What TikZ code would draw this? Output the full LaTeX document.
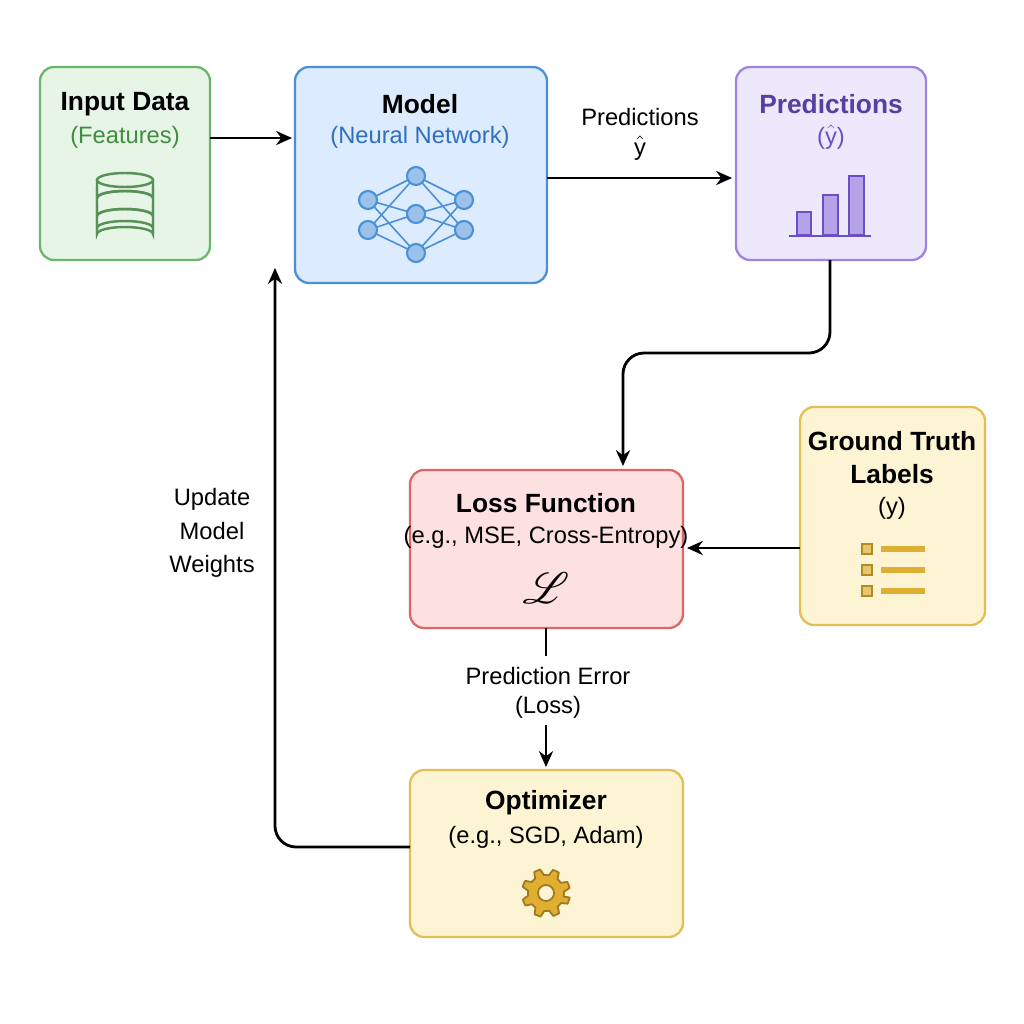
\documentclass[tikz,border=0pt]{standalone}
\usepackage{fontspec}
\setmainfont{Liberation Sans}
\usepackage{mathrsfs}
\usetikzlibrary{arrows.meta}
\definecolor{gF}{HTML}{E7F5E7}\definecolor{gD}{HTML}{6DB56D}\definecolor{gT}{HTML}{3E8E3E}
\definecolor{bF}{HTML}{DCEBFD}\definecolor{bD}{HTML}{4A90D9}\definecolor{bT}{HTML}{2F6FC0}
\definecolor{pF}{HTML}{EEE8FC}\definecolor{pD}{HTML}{9C84E0}\definecolor{pT}{HTML}{6A4FC8}
\definecolor{yF}{HTML}{FDF4D3}\definecolor{yD}{HTML}{E2BF52}\definecolor{yI}{HTML}{E0AE30}
\definecolor{rF}{HTML}{FDE1E0}\definecolor{rD}{HTML}{E06666}
\tikzset{box/.style={draw,line width=1.3pt,rounded corners=8pt},
 arr/.style={-{Stealth[length=9pt,width=8pt]},line width=1.6pt,rounded corners=12pt},
 ttl/.style={font=\bfseries\fontsize{15}{18}\selectfont},
 sub/.style={font=\fontsize{13.5}{16}\selectfont}}
\begin{document}
\begin{tikzpicture}[x=0.02cm,y=-0.02cm]
\useasboundingbox (0,0) rectangle (1024,1024);
\fill[white] (0,0) rectangle (1024,1024);
% boxes
\draw[box,fill=gF,draw=gD] (40,67) rectangle (210,260);
\node[box,draw=none,minimum width=0] (inp) at (125,163) {};
\draw[box,fill=bF,draw=bD] (295,67) rectangle (547,283);
\draw[box,fill=pF,draw=pD] (736,67) rectangle (926,260);
\draw[box,fill=yF,draw=yD] (800,407) rectangle (985,625);
\draw[box,fill=rF,draw=rD] (410,470) rectangle (683,628);
\draw[box,fill=yF,draw=yD] (410,770) rectangle (683,937);
% anchor coordinates
\coordinate (inpR) at (210,138); \coordinate (modL) at (292,138);
\coordinate (modR) at (547,178); \coordinate (preL) at (732,178);
\coordinate (preB) at (830,260); \coordinate (lossT) at (623,466);
\coordinate (gtL) at (800,548); \coordinate (lossR) at (687,548);
\coordinate (lossB) at (546,628); \coordinate (lossB2) at (546,656);
\coordinate (optT0) at (546,725); \coordinate (optT) at (546,767);
\coordinate (optL) at (410,847); \coordinate (modB) at (275,268);
% texts
\node[ttl] (t1) at (125,104) {Input Data};
\node[sub,text=gT] (s1) at (125,137) {(Features)};
\node[ttl] (t2) at (420,104) {Model};
\node[sub,text=bT] (s2) at (420,137) {(Neural Network)};
\node[ttl,text=pT!80!black] (t3) at (831,104) {Predictions};
\node[sub,text=pT] (s3) at (831,137) {($\hat{\mathrm{y}}$)};
\node[ttl] (t4) at (892,441) {Ground Truth};
\node[ttl] (t4b) at (892,474) {Labels};
\node[sub] (s4) at (892,508) {(y)};
\node[ttl] (t5) at (546,503) {Loss Function};
\node[sub] (s5) at (546,537) {(e.g., MSE, Cross-Entropy)};
\node[font=\fontsize{26}{28}\selectfont] (s5b) at (546,588) {$\mathscr{L}$};
\node[ttl] (t6) at (546,803) {Optimizer};
\node[sub] (s6) at (546,837) {(e.g., SGD, Adam)};
\node[sub] (l1) at (640,117) {Predictions};
\node[sub] (l1b) at (640,148) {$\hat{\mathrm{y}}$};
\node[sub] (l2) at (548,676) {Prediction Error};
\node[sub] (l2b) at (548,707) {(Loss)};
\node[sub,align=center] (l3) at (212,533) {Update\\[3pt]Model\\[3pt]Weights};
% arrows
\draw[arr] (inpR) -- (modL);
\draw[arr] (modR) -- (preL);
\draw[arr] (preB) -- (830,353) -- (623,353) -- (lossT);
\draw[arr] (gtL) -- (lossR);
\draw[line width=1.6pt] (lossB) -- (lossB2);
\draw[arr] (optT0) -- (optT);
\draw[arr] (optL) -- (275,847) -- (modB);
% database icon
\begin{scope}[draw=gD!80!black,line width=1.4pt,fill=gF]
\foreach \yy in {222,204,186}{
 \draw[fill=gF] (97,\yy) -- (97,\yy+12) arc[start angle=180,end angle=360,x radius=28,y radius=7] -- (153,\yy);}
\draw[fill=gF] (125,180) ellipse[x radius=28,y radius=7];
\draw (97,180) -- (97,228) arc[start angle=180,end angle=360,x radius=28,y radius=7] -- (153,180);
\foreach \yy in {198,216}{\draw (97,\yy) arc[start angle=180,end angle=360,x radius=28,y radius=7];}
\end{scope}
% neural net
\foreach \a in {200,230}{\foreach \b in {176,214,253}{
 \draw[bD,line width=0.9pt] (368,\a) -- (416,\b); \draw[bD,line width=0.9pt] (416,\b) -- (464,\a);}}
\foreach \p in {(368,200),(368,230),(416,176),(416,214),(416,253),(464,200),(464,230)}
 \fill[fill=bD!55!white,draw=bD,line width=1.2pt] \p circle[radius=9];
% bar chart
\begin{scope}[fill=pD!75!white,draw=pT,line width=1.1pt]
\filldraw (797,235) rectangle (811,212);
\filldraw (823,235) rectangle (838,195);
\filldraw (849,235) rectangle (864,176);
\draw[pT,line width=1.4pt] (789,236) -- (871,236);
\end{scope}
% list icon
\foreach \yy in {549,570,591}{
 \filldraw[fill=yI!70!white,draw=yI!80!black,line width=1pt] (862,\yy-5) rectangle (872,\yy+5);
 \draw[yI,line width=3pt] (881,\yy) -- (925,\yy);}
% gear
\filldraw[fill=yI,draw=yI!70!black,line width=1pt,even odd rule]
 plot[smooth cycle,tension=0.2,domain=0:360,samples=48] ({546+ (mod(\x,45)<22.5 ? 24 : 18)*cos(\x+11)},{893+(mod(\x,45)<22.5 ? 24 : 18)*sin(\x+11)})
 (546,893) circle[radius=8];
\end{tikzpicture}
\end{document}
